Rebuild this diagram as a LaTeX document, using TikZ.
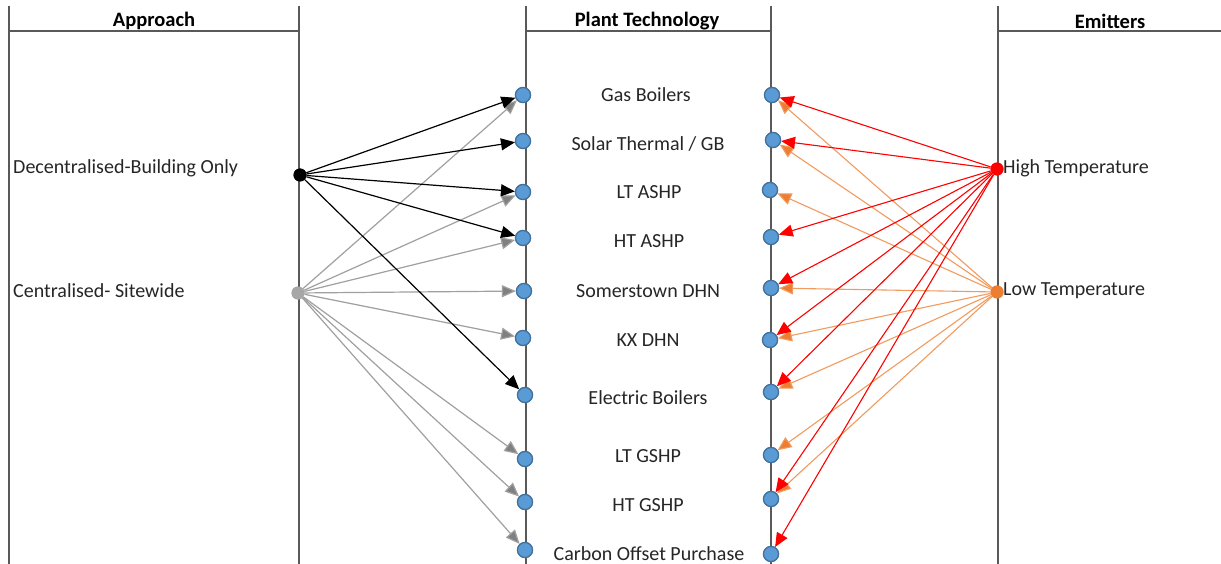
\documentclass[tikz,border=0pt]{standalone}
\usepackage{fontspec}
\setmainfont{Carlito}
\usetikzlibrary{arrows.meta}
\definecolor{bluefill}{HTML}{5B9BD5}
\definecolor{blueedge}{HTML}{41719C}
\definecolor{frame}{HTML}{595959}
\definecolor{txt}{HTML}{262626}
\definecolor{grayline}{HTML}{A0A0A0}
\definecolor{grayhead}{HTML}{808080}
\definecolor{orangeline}{HTML}{F29B5E}
\definecolor{orangehead}{HTML}{ED7D31}
\definecolor{redc}{HTML}{FF0000}
\definecolor{grayd}{HTML}{A6A6A6}
\begin{document}
\begin{tikzpicture}[x=1pt,y=-1pt,
  framel/.style={draw=frame,line width=1.3pt},
  tdot/.style={circle,draw=blueedge,fill=bluefill,line width=1.2pt,inner sep=0pt,minimum size=15pt},
  sdot/.style={circle,inner sep=0pt,minimum size=13pt},
  lbl/.style={font=\fontsize{20}{24}\selectfont,text=txt,inner sep=0pt},
  hdr/.style={font=\bfseries\fontsize{20.5}{24}\selectfont,text=black,inner sep=0pt},
  blk/.style={draw=black,line width=1.2pt,-{Triangle[length=14pt,width=12pt,fill=black]}},
  gry/.style={draw=grayline,line width=1.2pt,-{Triangle[length=14pt,width=12pt,fill=grayhead]}},
  redl/.style={draw=redc,line width=1.1pt,-{Triangle[length=14pt,width=12pt,fill=redc]}},
  orl/.style={draw=orangeline,line width=1.1pt,-{Triangle[length=14pt,width=12pt,fill=orangehead]}}
]
\useasboundingbox (0,0) rectangle (1221,564);
\fill[white] (0,0) rectangle (1221,564);
% frame
\draw[framel] (9,6) -- (9,564);
\draw[framel] (299,6) -- (299,564);
\draw[framel] (9,31) -- (299,31);
\draw[framel] (526,6) -- (526,564);
\draw[framel] (771,6) -- (771,564);
\draw[framel] (526,31) -- (771,31);
\draw[framel] (998,6) -- (998,564);
\draw[framel] (998,31) -- (1221,31);
% headers
\node[hdr] (hA) at (154,21) {Approach};
\node[hdr] (hP) at (647,21) {Plant Technology};
\node[hdr] (hE) at (1110,21) {Emitters};
% left labels
\node[lbl,anchor=west] (tdec) at (13,168) {Decentralised-Building Only};
\node[lbl,anchor=west] (tcen) at (13,291) {Centralised- Sitewide};
% right labels
\node[lbl,anchor=west] (thi) at (1003,168) {High Temperature};
\node[lbl,anchor=west] (tlo) at (1003,291) {Low Temperature};
% plant labels
\node[lbl] (t1) at (646,95) {Gas Boilers};
\node[lbl] (t2) at (648,144) {Solar Thermal / GB};
\node[lbl] (t3) at (649,192) {LT ASHP};
\node[lbl] (t4) at (649,241) {HT ASHP};
\node[lbl] (t5) at (648,291) {Somerstown DHN};
\node[lbl] (t6) at (648,340) {KX DHN};
\node[lbl] (t7) at (648,398) {Electric Boilers};
\node[lbl] (t8) at (648,456) {LT GSHP};
\node[lbl] (t9) at (648,505) {HT GSHP};
\node[lbl] (t10) at (649,554) {Carbon Offset Purchase};
% source dots
\node[sdot,fill=black] (dec) at (300,175) {};
\node[sdot,fill=grayd] (cen) at (298,293) {};
\node[sdot,fill=redc] (hi) at (997,169) {};
\node[sdot,fill=orangehead] (lo) at (997,292) {};
% plant dots left
\node[tdot] (L1) at (523,95) {};
\node[tdot] (L2) at (523,141) {};
\node[tdot] (L3) at (523,192) {};
\node[tdot] (L4) at (523,238) {};
\node[tdot] (L5) at (524,291) {};
\node[tdot] (L6) at (523,338) {};
\node[tdot] (L7) at (525,395) {};
\node[tdot] (L8) at (525,459) {};
\node[tdot] (L9) at (525,502) {};
\node[tdot] (L10) at (525,550) {};
% plant dots right
\node[tdot] (R1) at (772,95) {};
\node[tdot] (R2) at (773,140) {};
\node[tdot] (R3) at (770,190) {};
\node[tdot] (R4) at (771,237) {};
\node[tdot] (R5) at (771,288) {};
\node[tdot] (R6) at (770,340) {};
\node[tdot] (R7) at (771,392) {};
\node[tdot] (R8) at (771,455) {};
\node[tdot] (R9) at (771,499) {};
\node[tdot] (R10) at (771,554) {};
% gray connectors
\foreach \t in {L1,L3,L4,L5,L6,L8,L9,L10} \draw[gry] (cen) -- (\t);
% black connectors
\foreach \t in {L1,L2,L3,L4,L7} \draw[blk] (dec) -- (\t);
% orange connectors
\foreach \t in {R1,R2,R3,R5,R6,R7,R8,R9} \draw[orl] (lo) -- (\t);
% red connectors
\foreach \t in {R1,R2,R4,R5,R6,R7,R9,R10} \draw[redl] (hi) -- (\t);
% redraw dots on top
\foreach \n/\x/\y in {L1/523/95,L2/523/141,L3/523/192,L4/523/238,L5/524/291,L6/523/338,L7/525/395,L8/525/459,L9/525/502,L10/525/550,R1/772/95,R2/773/140,R3/770/190,R4/771/237,R5/771/288,R6/770/340,R7/771/392,R8/771/455,R9/771/499,R10/771/554}
  \node[tdot] (d\n) at (\x,\y) {};
\node[sdot,fill=black] (dec2) at (300,175) {};
\node[sdot,fill=grayd] (cen2) at (298,293) {};
\node[sdot,fill=redc] (hi2) at (997,169) {};
\node[sdot,fill=orangehead] (lo2) at (997,292) {};
\end{tikzpicture}
\end{document}
